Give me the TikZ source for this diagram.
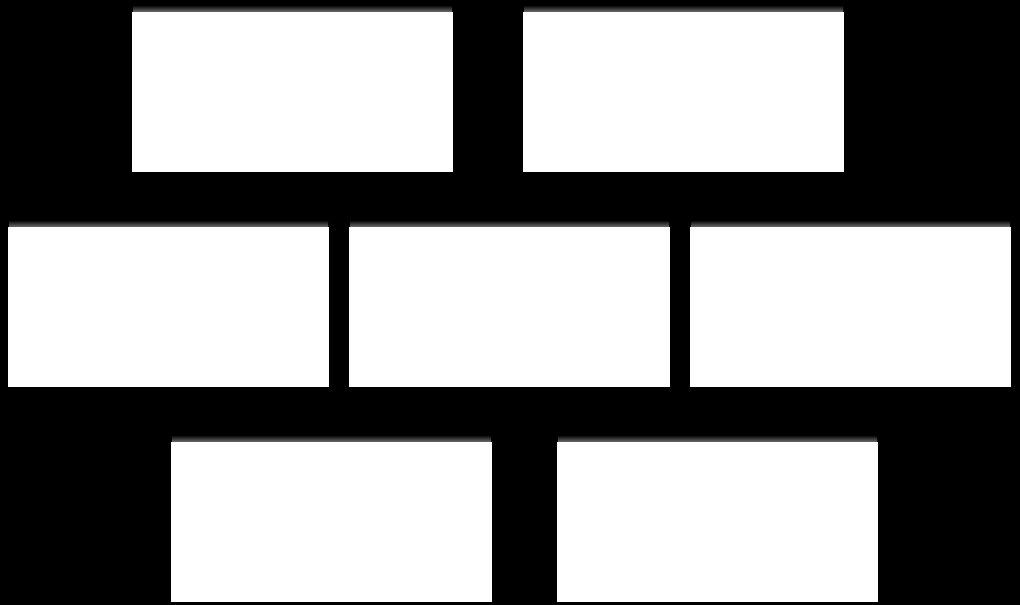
\documentclass[tikz,border=0pt]{standalone}
\begin{document}
\begin{tikzpicture}[x=1pt,y=-1pt,
  panel/.style={draw=none,fill=white,minimum width=321pt,minimum height=160pt,inner sep=0pt,outer sep=0pt,anchor=north west},
  topshade/.style={top color=black,bottom color=white!45!black,draw=none}]
\fill[black] (0,0) rectangle (1020,605);
\useasboundingbox (0,0) rectangle (1020,605);
\foreach \n/\x/\y in {a/132/12, b/523/12, c/8/227, d/349/227, e/690/227, f/171/442, g/557/442}{
  \shade[topshade] (\x+1,\y-7) rectangle (\x+320,\y);
  \node[panel] (\n) at (\x,\y) {};
}
\end{tikzpicture}
\end{document}
